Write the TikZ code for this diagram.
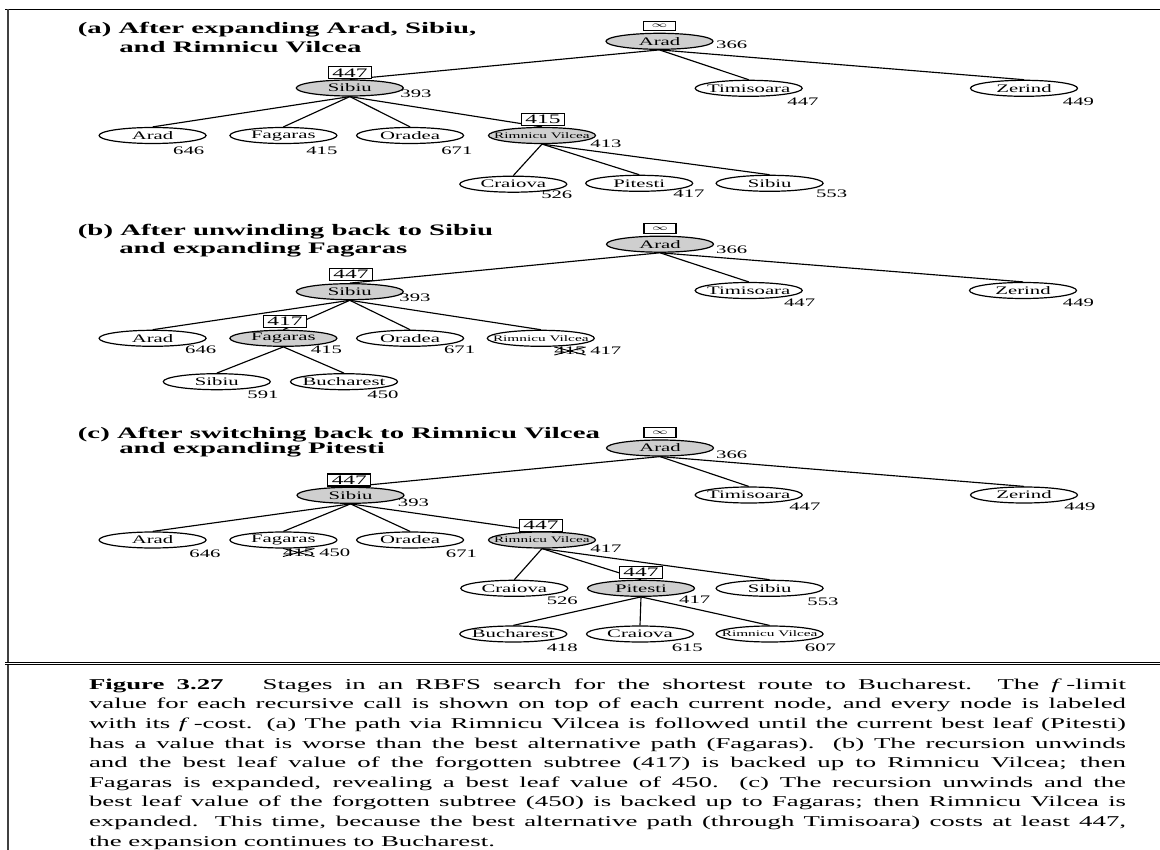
\documentclass[tikz,border=0pt]{standalone}
\usepackage{fontspec}
\setmainfont{Liberation Serif}
\usepackage{graphicx}
\usetikzlibrary{shapes.geometric,backgrounds}
\newcommand\sx[1]{\scalebox{1.8}[1]{#1}}
\newcommand\fsz[1]{\fontsize{#1}{#1}\selectfont}
\newcommand\lbl[1]{\makebox[0pt]{\sx{#1}}}
\tikzset{
  ell/.style={ellipse, draw, line width=1.2pt, minimum width=107pt, minimum height=16pt, inner sep=0pt, font=\fsz{11.5}},
  expd/.style={ell, fill=black!19},
  flim/.style={draw, fill=white, line width=1.1pt, minimum width=43pt, minimum height=12pt, inner sep=0pt, font=\fsz{13}},
  inf/.style={flim, minimum width=32pt, minimum height=9.5pt, font=\fsz{8}},
  num/.style={inner sep=0pt, font=\fsz{11.5}},
  ttl/.style={inner sep=0pt, anchor=base west, font=\bfseries\fsz{16}},
  conn/.style={line width=1.15pt},
  xout/.style={line width=0.9pt}
}
\begin{document}
\begin{tikzpicture}[x=1pt,y=-1pt]
\useasboundingbox (0,0) rectangle (1160,850);
% frame
\draw[line width=1.3pt] (5,9.5) -- (1160,9.5);
\draw[line width=2pt, black!75] (7.5,9) -- (7.5,850);
\draw[double, double distance=1.2pt, line width=0.9pt] (5,663.3) -- (1160,663.3);

% titles
\node[ttl] (ta1) at (77.7,33.3) {\sx{(a) After expanding Arad, Sibiu,}};
\node[ttl] (ta2) at (119.1,52.7) {\sx{and Rimnicu Vilcea}};
\node[ttl] (tb1) at (77.7,236) {\sx{(b) After unwinding back to Sibiu}};
\node[ttl] (tb2) at (119.1,253.3) {\sx{and expanding Fagaras}};
\node[ttl] (tc1) at (77.7,438.3) {\sx{(c) After switching back to Rimnicu Vilcea}};
\node[ttl] (tc2) at (119.1,453.3) {\sx{and expanding Pitesti}};

% ---------- panel (a)
\node[expd] (a0) at (659.5,41.3) {\lbl{Arad}};
\node[inf] (a0f) at (659.5,26.2) {\lbl{$\infty$}};
\node[num] (a0n) at (731.7,45) {\sx{366}};
\node[ell] (a1) at (748.7,88.3) {\lbl{Timisoara}};
\node[num] (a1n) at (803,101.7) {\sx{447}};
\node[ell] (a2) at (1024,88.3) {\lbl{Zerind}};
\node[num] (a2n) at (1078.5,101.7) {\sx{449}};
\node[expd] (a3) at (349.8,88) {\lbl{Sibiu}};
\node[flim] (a3f) at (350,72.8) {\lbl{447}};
\node[num] (a3n) at (416,94) {\sx{393}};
\node[ell] (a4) at (152.6,135.5) {\lbl{Arad}};
\node[num] (a4n) at (188.7,151) {\sx{646}};
\node[ell] (a5) at (283.4,135.5) {\lbl{Fagaras}};
\node[num] (a5n) at (321.9,151) {\sx{415}};
\node[ell] (a6) at (410.1,135.5) {\lbl{Oradea}};
\node[num] (a6n) at (456.9,151) {\sx{671}};
\node[expd] (a7) at (542,135.5) {\fsz{8.5}\lbl{Rimnicu Vilcea}};
\node[flim] (a7f) at (542.9,119.2) {\lbl{415}};
\node[num] (a7n) at (606,143.3) {\sx{413}};
\node[ell] (a8) at (513.3,184.2) {\lbl{Craiova}};
\node[num] (a8n) at (556.8,195) {\sx{526}};
\node[ell] (a9) at (639.2,183.3) {\lbl{Pitesti}};
\node[num] (a9n) at (689,194) {\sx{417}};
\node[ell] (a10) at (769.6,183.3) {\lbl{Sibiu}};
\node[num] (a10n) at (831.6,194) {\sx{553}};

% ---------- panel (b)
\node[expd] (b0) at (660,244.2) {\lbl{Arad}};
\node[inf] (b0f) at (660,228.7) {\lbl{$\infty$}};
\node[num] (b0n) at (731.7,249.5) {\sx{366}};
\node[ell] (b1) at (748.7,290.5) {\lbl{Timisoara}};
\node[num] (b1n) at (799.6,302.8) {\sx{447}};
\node[ell] (b2) at (1023,290.5) {\lbl{Zerind}};
\node[num] (b2n) at (1078.5,302.8) {\sx{449}};
\node[expd] (b3) at (349.8,291.7) {\lbl{Sibiu}};
\node[flim] (b3f) at (351,274.7) {\lbl{447}};
\node[num] (b3n) at (415,298) {\sx{393}};
\node[ell] (b4) at (152.6,338.3) {\lbl{Arad}};
\node[num] (b4n) at (200.7,350) {\sx{646}};
\node[expd] (b5) at (283.4,338.3) {\lbl{Fagaras}};
\node[flim] (b5f) at (284.9,321.7) {\lbl{417}};
\node[num] (b5n) at (326.5,350) {\sx{415}};
\node[ell] (b6) at (410.1,338.3) {\lbl{Oradea}};
\node[num] (b6n) at (459.6,350) {\sx{671}};
\node[ell] (b7) at (540.8,338.3) {\fsz{8.5}\lbl{Rimnicu Vilcea}};
\node[num] (b7x) at (570,351) {\sx{415}};
\draw[xout] (b7x.south west) -- (b7x.north east) (b7x.north west) -- (b7x.south east);
\node[num] (b7n) at (605.8,351) {\sx{417}};
\node[ell] (b8) at (216.8,381.7) {\lbl{Sibiu}};
\node[num] (b8n) at (263,395) {\sx{591}};
\node[ell] (b9) at (344,381.7) {\lbl{Bucharest}};
\node[num] (b9n) at (383,395) {\sx{450}};

% ---------- panel (c)
\node[expd] (c0) at (660,448) {\lbl{Arad}};
\node[inf] (c0f) at (660,432.3) {\lbl{$\infty$}};
\node[num] (c0n) at (731.7,454.7) {\sx{366}};
\node[ell] (c1) at (748.7,495) {\lbl{Timisoara}};
\node[num] (c1n) at (804.9,507) {\sx{447}};
\node[ell] (c2) at (1024,495) {\lbl{Zerind}};
\node[num] (c2n) at (1080,507) {\sx{449}};
\node[expd] (c3) at (350.5,495.3) {\lbl{Sibiu}};
\node[flim] (c3f) at (349.3,480) {\lbl{447}};
\node[num] (c3n) at (413.5,503) {\sx{393}};
\node[ell] (c4) at (152.6,540) {\lbl{Arad}};
\node[num] (c4n) at (205,553.3) {\sx{646}};
\node[ell] (c5) at (283.4,540) {\lbl{Fagaras}};
\node[num] (c5x) at (298.7,552.5) {\sx{415}};
\draw[xout] (c5x.south west) -- (c5x.north east) (c5x.north west) -- (c5x.south east);
\node[num] (c5n) at (334.8,552.5) {\sx{450}};
\node[ell] (c6) at (410.1,540) {\lbl{Oradea}};
\node[num] (c6n) at (461.5,553.3) {\sx{671}};
\node[expd] (c7) at (542,540) {\fsz{8.5}\lbl{Rimnicu Vilcea}};
\node[flim] (c7f) at (541,525.5) {\lbl{447}};
\node[num] (c7n) at (606,548.3) {\sx{417}};
\node[ell] (c8) at (514.3,588.3) {\lbl{Craiova}};
\node[num] (c8n) at (562.3,600.8) {\sx{526}};
\node[expd] (c9) at (641,588.3) {\lbl{Pitesti}};
\node[flim] (c9f) at (641,572.5) {\lbl{447}};
\node[num] (c9n) at (694.7,600) {\sx{417}};
\node[ell] (c10) at (769.6,588.3) {\lbl{Sibiu}};
\node[num] (c10n) at (823,601.7) {\sx{553}};
\node[ell] (c11) at (513.3,634) {\lbl{Bucharest}};
\node[num] (c11n) at (562.3,647.5) {\sx{418}};
\node[ell] (c12) at (640,634) {\lbl{Craiova}};
\node[num] (c12n) at (687.3,647.5) {\sx{615}};
\node[ell] (c13) at (769.6,634) {\fsz{8.5}\lbl{Rimnicu Vilcea}};
\node[num] (c13n) at (820.5,647.5) {\sx{607}};

% ---------- connectors
\begin{scope}[on background layer]
\foreach \p/\c in {a0/a3,a0/a1,a0/a2,a3/a4,a3/a5,a3/a6,a3/a7,a7/a8,a7/a9,a7/a10,
                   b0/b3,b0/b1,b0/b2,b3/b4,b3/b5,b3/b6,b3/b7,b5/b8,b5/b9,
                   c0/c3,c0/c1,c0/c2,c3/c4,c3/c5,c3/c6,c3/c7,c7/c8,c7/c9,c7/c10,c9/c11,c9/c12,c9/c13}
  \draw[conn] (\p.south) -- (\c.north);
\end{scope}

% ---------- caption
\node[inner sep=0pt, anchor=base west] (cap) at (88.8,689.3) {\scalebox{1.788}[1]{\parbox[t]{580pt}{%
\fontsize{15}{19.6}\selectfont\tolerance=10000\hbadness=10000
\textbf{Figure 3.27}\quad\ Stages in an RBFS search for the shortest route to Bucharest. The \textit{f}\,-limit\linebreak
value for each recursive call is shown on top of each current node, and every node is labeled\linebreak
with its \textit{f}\,-cost. (a) The path via Rimnicu Vilcea is followed until the current best leaf (Pitesti)\linebreak
has a value that is worse than the best alternative path (Fagaras). (b) The recursion unwinds\linebreak
and the best leaf value of the forgotten subtree (417) is backed up to Rimnicu Vilcea; then\linebreak
Fagaras is expanded, revealing a best leaf value of 450. (c) The recursion unwinds and the\linebreak
best leaf value of the forgotten subtree (450) is backed up to Fagaras; then Rimnicu Vilcea is\linebreak
expanded. This time, because the best alternative path (through Timisoara) costs at least 447,\linebreak
the expansion continues to Bucharest.}}};
\end{tikzpicture}
\end{document}
